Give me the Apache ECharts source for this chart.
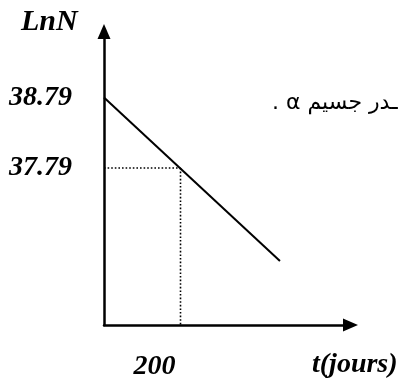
<!DOCTYPE html>
<html>
<head>
<meta charset="utf-8">
<script src="https://cdn.jsdelivr.net/npm/echarts@6/dist/echarts.min.js"></script>
<style>html,body{margin:0;padding:0;background:#fff}#c{width:402px;height:381px}</style>
</head>
<body>
<div id="c"></div>
<script>
// data
var decayLine = [[0, 38.79], [460, 36.47]];
var guideH = [[0, 37.79], [200, 37.79]];
var guideV = [[200, 37.79], [200, 35.563]];
var yTickValues = [38.79, 37.79];
var xTickValues = [200];
var yName = 'LnN';
var xName = 't(jours)';
var noteText = '. \u03B1 \u0640\u062F\u0631 \u062C\u0633\u064A\u0645';

var chart = echarts.init(document.getElementById('c'), null, {renderer: 'canvas'});
var serifFont = 'Liberation Serif';
chart.setOption({
  animation: false,
  backgroundColor: '#fff',
  grid: {left: 104, right: 51.5, top: 31.5, bottom: 56, containLabel: false},
  xAxis: {
    type: 'value', min: 0, max: 644.4,
    splitLine: {show: false},
    axisLine: {lineStyle: {color: '#000', width: 2.5}, symbol: ['none', 'triangle'], symbolSize: [13, 15]},
    axisTick: {show: false},
    axisLabel: {
      customValues: xTickValues, color: '#000', fontFamily: serifFont, fontWeight: 'bold', fontStyle: 'italic',
      fontSize: 28, align: 'right', padding: [0, 5, 0, 0], margin: 28,
      formatter: function (v) { return String(v); }
    }
  },
  yAxis: {
    type: 'value', min: 35.563, max: 39.726,
    splitLine: {show: false},
    axisLine: {lineStyle: {color: '#000', width: 2.5}, symbol: ['none', 'triangle'], symbolSize: [13, 15]},
    axisTick: {show: false},
    axisLabel: {
      customValues: yTickValues, color: '#000', fontFamily: serifFont, fontWeight: 'bold', fontStyle: 'italic',
      fontSize: 28, margin: 32,
      formatter: function (v) { return v.toFixed(2); }
    }
  },
  series: [
    {type: 'line', data: decayLine, symbol: 'none', lineStyle: {color: '#000', width: 2}},
    {type: 'line', data: guideH, symbol: 'none', lineStyle: {color: '#000', width: 1.6, type: [1.6, 2]}},
    {type: 'line', data: guideV, symbol: 'none', lineStyle: {color: '#000', width: 1.6, type: [1.6, 2]}}
  ],
  graphic: [
    {type: 'text', left: 21, top: 7, style: {text: yName, font: 'italic bold 30px "Liberation Serif"', fill: '#000'}},
    {type: 'text', left: 312, top: 351, style: {text: xName, font: 'italic bold 28px "Liberation Serif"', fill: '#000'}},
    {type: 'text', left: 272, top: 92, style: {text: noteText, font: '22px "DejaVu Sans"', fill: '#000'}}
  ]
});
</script>
</body>
</html>
